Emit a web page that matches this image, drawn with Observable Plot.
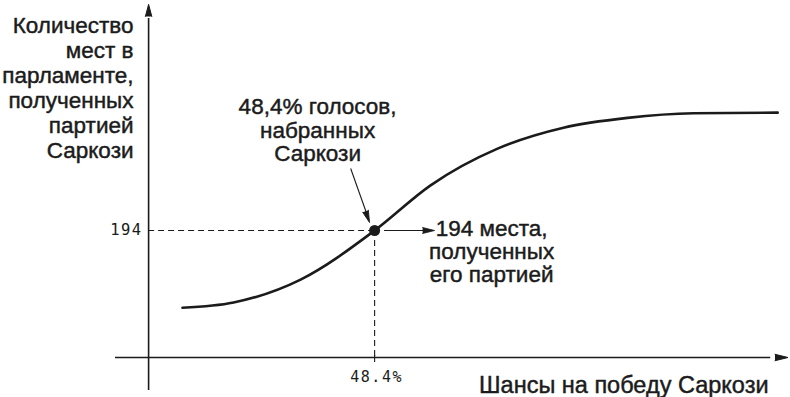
<!DOCTYPE html>
<html>
<head>
<meta charset="utf-8">
<script src="https://cdn.jsdelivr.net/npm/d3@7"></script>
<script src="https://cdn.jsdelivr.net/npm/@observablehq/plot@0.6"></script>
<style>
  html, body { margin: 0; padding: 0; background: #fff; }
  #chart { width: 790px; height: 397px; }
</style>
</head>
<body>
<div id="chart"></div>
<script>
// ---- data ----
const voteShare = [41.26, 43.16, 45.65, 48.4, 50.48, 52.97, 55.42, 57.80, 60.26, 63.38];
const seats     = [76, 84, 119, 194, 263, 319, 351, 366, 373, 374];
const pointX = 48.4;
const pointY = 194;
const tickLabelX = "48.4%";
const tickLabelY = "194";
const yAxisLabel = "Количество\nмест в\nпарламенте,\nполученных\nпартией\nСаркози";
const xAxisLabel = "Шансы на победу Саркози";
const voteNote = "48,4% голосов,\nнабранных\nСаркози";
const seatNote = "194 места,\nполученных\nего партией";

// ---- scales ----
const xDomain = [38.77, 63.67];
const yDomain = [-50.4, 537.7];
const axisX0 = 40;   // where the vertical axis sits
const axisY0 = 0;    // where the horizontal axis sits

const curve = voteShare.map((v, i) => ({x: v, y: seats[i]}));
const ink = "#1b1b1b";
const sans = "Liberation Sans, Arial, sans-serif";
const mono = "DejaVu Sans Mono, monospace";
const textStyle = {fontFamily: sans, fontSize: 22.5, fill: ink, stroke: ink, strokeWidth: 0.45};

const chart = Plot.plot({
  width: 790,
  height: 397,
  marginLeft: 115,
  marginRight: 5,
  marginTop: 5,
  marginBottom: 7,
  x: {domain: xDomain, axis: null},
  y: {domain: yDomain, axis: null},
  style: {background: "#fff", overflow: "visible"},
  marks: [
    // axes
    Plot.ruleX([axisX0], {y1: yDomain[0], y2: 518, stroke: ink, strokeWidth: 1.6}),
    Plot.vector([{x: axisX0, y: 521}], {x: "x", y: "y", shape: "spike", anchor: "start", rotate: 0, length: 12, r: 3.2, fill: ink, stroke: ink, strokeWidth: 1}),
    Plot.ruleY([axisY0], {x1: xDomain[0], x2: 63.12, stroke: ink, strokeWidth: 1.6}),
    Plot.vector([{x: 63.28, y: axisY0}], {x: "x", y: "y", shape: "spike", anchor: "start", rotate: 90, length: 13, r: 3.2, fill: ink, stroke: ink, strokeWidth: 1}),
    // dashed guides
    Plot.ruleY([pointY], {x1: axisX0, x2: pointX, stroke: ink, strokeWidth: 1.1, strokeDasharray: "6,4"}),
    Plot.ruleX([pointX], {y1: pointY, y2: axisY0, stroke: ink, strokeWidth: 1.1, strokeDasharray: "6,4"}),
    Plot.ruleX([pointX], {y1: axisY0 + 3, y2: axisY0 - 7.5, stroke: ink, strokeWidth: 1.1}),
    // curve
    Plot.line(curve, {x: "x", y: "y", curve: "monotone-x", stroke: ink, strokeWidth: 2.6}),
    Plot.dot([{x: pointX, y: pointY}], {x: "x", y: "y", r: 5.5, fill: ink}),
    // annotation arrows
    Plot.link([{x1: 47.51, y1: 288.7, x2: 48.19, y2: 210}], {x1: "x1", y1: "y1", x2: "x2", y2: "y2", stroke: ink, strokeWidth: 1.1}),
    Plot.vector([{x: 48.21, y: 206.2}], {x: "x", y: "y", shape: "spike", anchor: "end", rotate: 160.6, length: 12, r: 3, fill: ink, stroke: ink, strokeWidth: 0.8}),
    Plot.link([{x1: 48.75, y1: pointY, x2: 50.4, y2: pointY}], {x1: "x1", y1: "y1", x2: "x2", y2: "y2", stroke: ink, strokeWidth: 1.1}),
    Plot.vector([{x: 50.63, y: pointY}], {x: "x", y: "y", shape: "spike", anchor: "end", rotate: 90, length: 12, r: 3, fill: ink, stroke: ink, strokeWidth: 0.8}),
    // tick labels
    Plot.text([tickLabelY], {x: 39.78, y: pointY, text: d => d, textAnchor: "end", fontFamily: mono, fontSize: 15.5, fill: ink}),
    Plot.text([tickLabelX], {x: pointX, y: axisY0, dy: 20, dx: 2, text: d => d, textAnchor: "middle", fontFamily: mono, fontSize: 15, fill: ink}),
    // axis titles
    Plot.text([yAxisLabel], {x: 39.44, y: 412.5, text: d => d, textAnchor: "end", lineAnchor: "middle", lineHeight: 1.11, ...textStyle}),
    Plot.text([xAxisLabel], {x: 63.04, y: -42.5, text: d => d, textAnchor: "end", lineAnchor: "middle", ...textStyle, fontSize: 23.5}),
    // annotations
    Plot.text([voteNote], {x: 46.28, y: 347.5, text: d => d, textAnchor: "middle", lineAnchor: "middle", lineHeight: 1.04, ...textStyle}),
    Plot.text([seatNote], {x: 52.75, y: 161.8, text: d => d, textAnchor: "middle", lineAnchor: "middle", lineHeight: 1.04, ...textStyle})
  ]
});

// wide letter spacing for the numeric tick labels
chart.querySelectorAll("text").forEach(t => {
  if (t.textContent === tickLabelX || t.textContent === tickLabelY) t.style.letterSpacing = "1.5px";
});

document.getElementById("chart").appendChild(chart);
</script>
</body>
</html>
